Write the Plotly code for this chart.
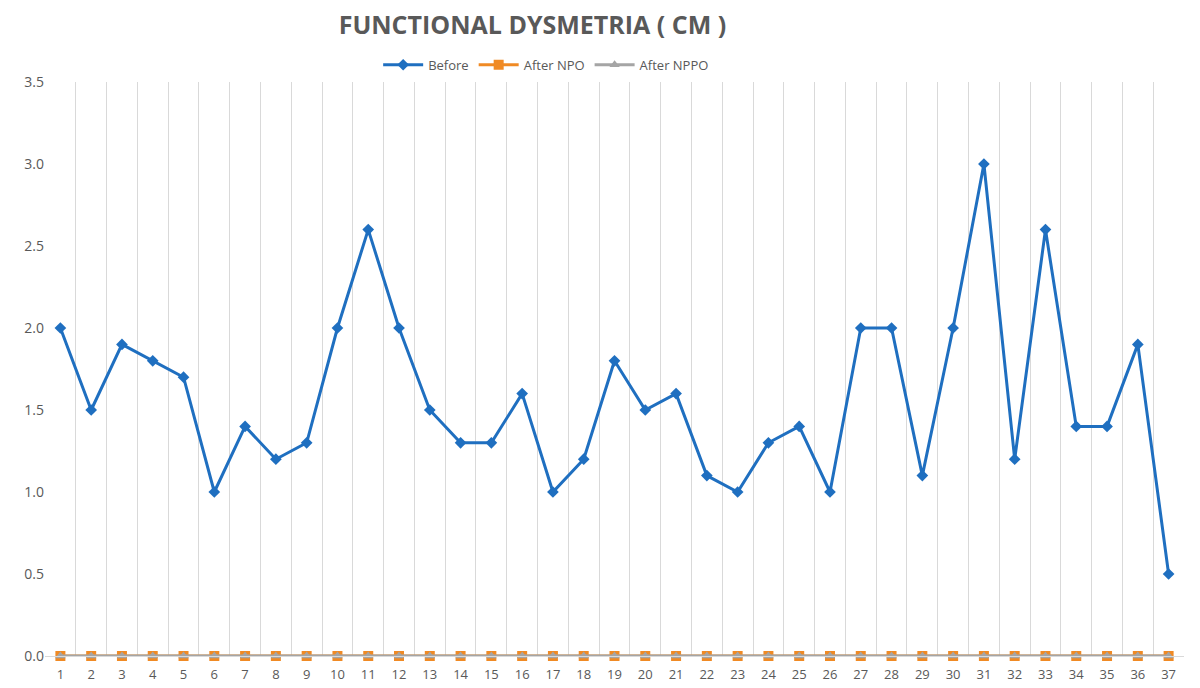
import plotly.graph_objects as go

patients = [str(i) for i in range(1, 38)]
before = [2.0, 1.5, 1.9, 1.8, 1.7, 1.0, 1.4, 1.2, 1.3, 2.0,
          2.6, 2.0, 1.5, 1.3, 1.3, 1.6, 1.0, 1.2, 1.8, 1.5,
          1.6, 1.1, 1.0, 1.3, 1.4, 1.0, 2.0, 2.0, 1.1, 2.0,
          3.0, 1.2, 2.6, 1.4, 1.4, 1.9, 0.5]
after_npo = [0.0] * 37
after_nppo = [0.0] * 37

fig = go.Figure()
fig.add_trace(go.Scatter(x=patients, y=before, name="Before", mode="lines+markers",
                         line=dict(color="#1f6fc0", width=3), cliponaxis=False,
                         marker=dict(symbol="diamond", size=9, color="#1f6fc0")))
fig.add_trace(go.Scatter(x=patients, y=after_npo, name="After NPO", mode="lines+markers",
                         line=dict(color="#f08a24", width=3), cliponaxis=False,
                         marker=dict(symbol="square", size=10, color="#f08a24")))
fig.add_trace(go.Scatter(x=patients, y=after_nppo, name="After NPPO", mode="lines+markers",
                         line=dict(color="#a5a5a5", width=3), cliponaxis=False,
                         marker=dict(symbol="triangle-up", size=9, color="#a5a5a5")))

# page body has an 8px margin, so the figure is a bit smaller than the window
fig.update_layout(
    width=1192, height=680,
    plot_bgcolor="white", paper_bgcolor="white",
    margin=dict(l=37, r=16, t=74, b=32),
    font=dict(family="Open Sans", color="#595959", size=13),
    title=dict(text="<b>FUNCTIONAL DYSMETRIA ( CM )</b>", x=0.44, xanchor="center",
               y=0.974, yanchor="middle",
               font=dict(family="Open Sans", size=25, color="#595959")),
    legend=dict(orientation="h", x=0.44, xanchor="center", y=1.03, yanchor="middle",
                font=dict(size=13, color="#595959"), itemwidth=40),
    xaxis=dict(type="category", tickson="boundaries", showgrid=True, gridcolor="#d9d9d9",
               ticks="", showline=True, linecolor="#d9d9d9", zeroline=False,
               range=[-0.5, 36.5], tickfont=dict(size=13), ticklabelstandoff=6,
               automargin=False),
    yaxis=dict(range=[0, 3.5], dtick=0.5, tickformat=".1f", showgrid=False,
               zeroline=False, showline=False, ticks="", tickfont=dict(size=14),
               automargin=False),
)

fig.write_html("out.html")
